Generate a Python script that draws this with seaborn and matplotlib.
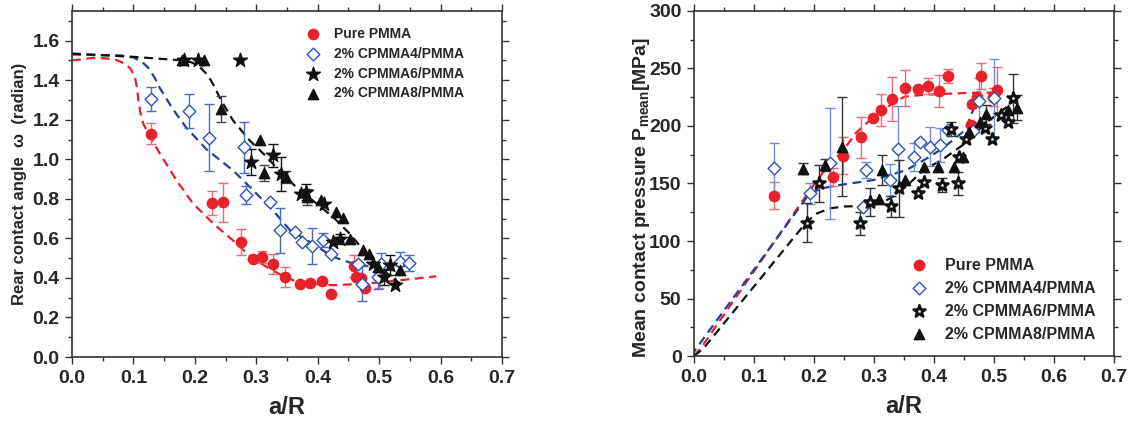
import numpy as np
import pandas as pd
import seaborn as sns
import matplotlib.pyplot as plt
from matplotlib.ticker import MultipleLocator, FormatStrFormatter

sns.set_style("ticks")
plt.rcParams['font.family'] = ['Liberation Sans', 'DejaVu Sans']
plt.rcParams['font.weight'] = 'bold'
plt.rcParams['mathtext.fontset'] = 'custom'
plt.rcParams['mathtext.rm'] = 'Liberation Sans:bold'
plt.rcParams['mathtext.bf'] = 'Liberation Sans:bold'

RED = '#e8202a'
BLUE = '#2d52b8'
BLUE_FIT = '#23409a'
BLACK = '#111111'

labels = ["Pure PMMA", "2% CPMMA4/PMMA", "2% CPMMA6/PMMA", "2% CPMMA8/PMMA"]

# ---- left panel: rear contact angle ----
ang_pure_x = [0.129, 0.228, 0.246, 0.275, 0.295, 0.310, 0.327, 0.347, 0.371, 0.388, 0.407, 0.421, 0.459, 0.462, 0.470, 0.477, 0.500]
ang_pure_y = [1.130, 0.779, 0.782, 0.582, 0.494, 0.504, 0.472, 0.405, 0.369, 0.373, 0.383, 0.320, 0.460, 0.405, 0.401, 0.351, 0.405]
ang_pure_e = [0.055, 0.060, 0.100, 0.065, 0.000, 0.030, 0.050, 0.050, 0.000, 0.000, 0.000, 0.000, 0.055, 0.000, 0.000, 0.000, 0.055]

ang_c4_x = [0.129, 0.190, 0.223, 0.280, 0.284, 0.323, 0.338, 0.363, 0.375, 0.391, 0.408, 0.422, 0.466, 0.472, 0.498, 0.503, 0.534, 0.549]
ang_c4_y = [1.305, 1.243, 1.110, 1.061, 0.820, 0.784, 0.641, 0.632, 0.582, 0.562, 0.590, 0.519, 0.472, 0.371, 0.405, 0.472, 0.481, 0.476]
ang_c4_e = [0.060, 0.087, 0.170, 0.130, 0.045, 0.000, 0.115, 0.000, 0.000, 0.090, 0.035, 0.000, 0.000, 0.090, 0.060, 0.055, 0.050, 0.040]

ang_c6_x = [0.183, 0.205, 0.274, 0.292, 0.327, 0.341, 0.373, 0.381, 0.411, 0.425, 0.436, 0.490, 0.508, 0.517, 0.526]
ang_c6_y = [1.500, 1.500, 1.500, 0.987, 1.020, 0.927, 0.826, 0.835, 0.772, 0.582, 0.599, 0.472, 0.405, 0.464, 0.366]
ang_c6_e = [0.000, 0.000, 0.000, 0.067, 0.057, 0.085, 0.000, 0.040, 0.000, 0.000, 0.025, 0.000, 0.040, 0.050, 0.000]

ang_c8_x = [0.179, 0.215, 0.243, 0.306, 0.312, 0.348, 0.382, 0.406, 0.430, 0.441, 0.452, 0.474, 0.484, 0.498, 0.534]
ang_c8_y = [1.500, 1.500, 1.253, 1.100, 0.931, 0.911, 0.809, 0.793, 0.734, 0.705, 0.599, 0.543, 0.523, 0.455, 0.442]
ang_c8_e = [0.000, 0.000, 0.065, 0.000, 0.040, 0.030, 0.040, 0.000, 0.000, 0.000, 0.000, 0.000, 0.000, 0.000, 0.020]

# fitted (dashed) curves
fit_ang_pure_x = [0.0, 0.04, 0.07, 0.085, 0.095, 0.102, 0.106, 0.108, 0.111, 0.116, 0.124, 0.143, 0.170, 0.197, 0.230, 0.262, 0.289, 0.317, 0.340, 0.360, 0.382, 0.425, 0.479, 0.534, 0.593]
fit_ang_pure_y = [1.50, 1.515, 1.505, 1.485, 1.46, 1.42, 1.36, 1.30, 1.24, 1.18, 1.13, 1.029, 0.894, 0.776, 0.675, 0.590, 0.512, 0.455, 0.415, 0.388, 0.371, 0.363, 0.371, 0.388, 0.408]
fit_ang_c4_x = [0.0, 0.08, 0.10, 0.115, 0.125, 0.135, 0.143, 0.155, 0.165, 0.186, 0.219, 0.262, 0.295, 0.327, 0.355, 0.392, 0.425, 0.458, 0.490, 0.523]
fit_ang_c4_y = [1.53, 1.525, 1.515, 1.49, 1.46, 1.41, 1.36, 1.30, 1.25, 1.16, 1.05, 0.944, 0.843, 0.742, 0.641, 0.573, 0.506, 0.472, 0.455, 0.438]
fit_ang_c6_x = [0.0, 0.10, 0.181, 0.195, 0.208, 0.218, 0.226, 0.233, 0.240, 0.250, 0.262, 0.289, 0.317, 0.344, 0.371, 0.398, 0.425, 0.452, 0.479, 0.507, 0.534]
fit_ang_c6_y = [1.535, 1.518, 1.50, 1.49, 1.467, 1.435, 1.40, 1.36, 1.315, 1.26, 1.197, 1.096, 1.012, 0.919, 0.843, 0.776, 0.708, 0.624, 0.523, 0.438, 0.371]

# ---- right panel: mean contact pressure ----
p_pure_x = [0.133, 0.231, 0.249, 0.278, 0.298, 0.312, 0.330, 0.351, 0.373, 0.390, 0.409, 0.423, 0.462, 0.464, 0.472, 0.479, 0.498, 0.505]
p_pure_y = [139.4, 155.4, 174.2, 190.2, 207.2, 214.2, 223.5, 233.0, 232.2, 234.8, 230.4, 243.5, 200.6, 218.8, 225.5, 243.5, 225.0, 231.0]
p_pure_e = [12, 8, 16, 18, 0, 14, 19, 16, 0, 7, 14, 6, 0, 0, 0, 11, 8, 20]

p_c4_x = [0.133, 0.193, 0.227, 0.282, 0.287, 0.326, 0.340, 0.366, 0.377, 0.393, 0.410, 0.424, 0.465, 0.475, 0.500]
p_c4_y = [163.8, 141.5, 167.5, 129.8, 161.7, 153.0, 180.0, 173.3, 186.4, 182.0, 183.5, 196.5, 196.0, 222.0, 224.0]
p_c4_e = [21.7, 9, 48, 0, 7, 14, 37, 12, 0, 17, 15, 0, 0, 20, 34]

p_c6_x = [0.188, 0.209, 0.277, 0.293, 0.329, 0.342, 0.374, 0.384, 0.414, 0.428, 0.440, 0.442, 0.453, 0.485, 0.497, 0.512, 0.523, 0.532]
p_c6_y = [116.0, 150.0, 115.4, 134.0, 130.0, 145.8, 141.5, 151.6, 148.7, 197.4, 150.2, 173.3, 188.4, 198.0, 189.0, 209.5, 203.7, 224.0]
p_c6_e = [17, 16, 10, 12, 9, 25, 0, 0, 6, 6, 10, 0, 0, 0, 0, 0, 0, 21]

p_c8_x = [0.182, 0.218, 0.246, 0.309, 0.313, 0.351, 0.384, 0.407, 0.434, 0.448, 0.458, 0.477, 0.487, 0.523, 0.538]
p_c8_y = [163.0, 166.0, 182.0, 136.2, 161.7, 153.0, 164.6, 164.6, 164.6, 173.0, 195.0, 203.8, 210.0, 214.0, 216.0]
p_c8_e = [5, 5, 43, 0, 13, 0, 0, 0, 0, 0, 0, 0, 8, 0, 11]

fit_p_pure_x = [0.0, 0.013, 0.193, 0.220, 0.249, 0.270, 0.293, 0.320, 0.351, 0.380, 0.420, 0.468, 0.51]
fit_p_pure_y = [0.0, 8.0, 144.0, 163.0, 179.0, 194.0, 205.0, 216.0, 225.5, 227.0, 228.0, 229.0, 229.0]
fit_p_c4_x = [-0.005, 0.01, 0.193, 0.215, 0.243, 0.299, 0.354, 0.393, 0.418, 0.452, 0.474]
fit_p_c4_y = [0.0, 11.0, 141.5, 146.0, 148.7, 153.0, 161.7, 173.3, 182.0, 196.5, 225.5]
fit_p_c6_x = [0.0, 0.016, 0.188, 0.205, 0.227, 0.250, 0.282, 0.305, 0.327, 0.355, 0.382, 0.413, 0.452, 0.485, 0.53]
fit_p_c6_y = [0.0, 6.7, 116.8, 124.0, 128.4, 130.0, 130.4, 132.0, 137.0, 148.0, 161.7, 170.4, 185.0, 202.0, 220.0]


def dashed(ax, x, y, color):
    d = pd.DataFrame({"x": x, "y": y})
    sns.lineplot(data=d, x="x", y="y", ax=ax, sort=False, estimator=None,
                 color=color, lw=1.6, linestyle=(0, (4, 2.5)), legend=False, zorder=2)


def points(ax, x, y, e, marker, face, edge, ecolor, size, label, lw=1.0):
    d = pd.DataFrame({"x": x, "y": y, "e": e})
    bars = d[d["e"] > 0]
    ax.errorbar(bars["x"], bars["y"], yerr=bars["e"], fmt='none', ecolor=ecolor,
                elinewidth=1.0, capsize=3.5, capthick=1.0, zorder=3)
    sns.scatterplot(data=d, x="x", y="y", ax=ax, marker=marker, s=size,
                    facecolor=face, edgecolor=edge, linewidth=lw, label=label, zorder=4)


fig = plt.figure(figsize=(11.31, 4.23), dpi=100)
ax1 = fig.add_axes([72 / 1131, 1 - 357 / 423, 430 / 1131, 346 / 423])
ax2 = fig.add_axes([694 / 1131, 1 - 356 / 423, 420 / 1131, 345 / 423])

# left
dashed(ax1, fit_ang_pure_x, fit_ang_pure_y, RED)
dashed(ax1, fit_ang_c4_x, fit_ang_c4_y, BLUE_FIT)
dashed(ax1, fit_ang_c6_x, fit_ang_c6_y, BLACK)
points(ax1, ang_pure_x, ang_pure_y, ang_pure_e, 'o', RED, RED, '#f06a70', 55, labels[0])
points(ax1, ang_c4_x, ang_c4_y, ang_c4_e, 'D', 'white', BLUE, '#4a6ac8', 42, labels[1])
points(ax1, ang_c6_x, ang_c6_y, ang_c6_e, '*', BLACK, BLACK, BLACK, 110, labels[2])
points(ax1, ang_c8_x, ang_c8_y, ang_c8_e, '^', BLACK, BLACK, '#444444', 55, labels[3])

# right
dashed(ax2, fit_p_pure_x, fit_p_pure_y, RED)
dashed(ax2, fit_p_c4_x, fit_p_c4_y, BLUE_FIT)
dashed(ax2, fit_p_c6_x, fit_p_c6_y, BLACK)
points(ax2, p_pure_x, p_pure_y, p_pure_e, 'o', RED, RED, '#f06a70', 55, labels[0])
points(ax2, p_c4_x, p_c4_y, p_c4_e, 'D', 'white', BLUE, '#6f8fd8', 42, labels[1])
points(ax2, p_c6_x, p_c6_y, p_c6_e, '*', 'white', BLACK, '#333333', 80, labels[2], lw=1.9)
points(ax2, p_c8_x, p_c8_y, p_c8_e, '^', BLACK, BLACK, '#333333', 55, labels[3])

for ax in (ax1, ax2):
    ax.set_xlim(0, 0.7)
    ax.xaxis.set_major_locator(MultipleLocator(0.1))
    ax.xaxis.set_minor_locator(MultipleLocator(0.05))
    ax.xaxis.set_major_formatter(FormatStrFormatter('%.1f'))
    ax.tick_params(which='both', direction='out', top=True, right=True, labeltop=False, labelright=False,
                   width=1.0, color='#333333')
    ax.tick_params(which='major', length=5, labelsize=14, pad=4)
    ax.tick_params(which='minor', length=3)
    for s in ax.spines.values():
        s.set_linewidth(1.2)
        s.set_color('#333333')
    ax.set_xlabel('a/R', fontsize=17, fontweight='bold', labelpad=7)
    for t in ax.get_xticklabels() + ax.get_yticklabels():
        t.set_fontweight('bold')

ax1.set_ylim(0, 1.75)
ax1.yaxis.set_major_locator(MultipleLocator(0.2))
ax1.yaxis.set_minor_locator(MultipleLocator(0.1))
ax1.yaxis.set_major_formatter(FormatStrFormatter('%.1f'))
ax1.set_ylabel('Rear contact angle  ω  (radian)', fontsize=12, fontweight='bold')
ax1.yaxis.set_label_coords(-0.105, 0.5)

ax2.set_ylim(0, 300)
ax2.yaxis.set_major_locator(MultipleLocator(50))
ax2.yaxis.set_minor_locator(MultipleLocator(25))
ax2.set_ylabel(r'Mean contact pressure P$_{\mathrm{mean}}$[MPa]', fontsize=14, fontweight='bold')
ax2.yaxis.set_label_coords(-0.10, 0.46)

ax1.legend(loc='upper right', bbox_to_anchor=(0.94, 0.99), frameon=False,
           handletextpad=0.5, labelspacing=0.42, prop={'weight': 'bold', 'size': 10})
ax2.legend(loc='lower right', bbox_to_anchor=(0.99, 0.0), frameon=False,
           handletextpad=0.6, labelspacing=0.5, prop={'weight': 'bold', 'size': 11.5})

fig.savefig('out.png', dpi=100)
